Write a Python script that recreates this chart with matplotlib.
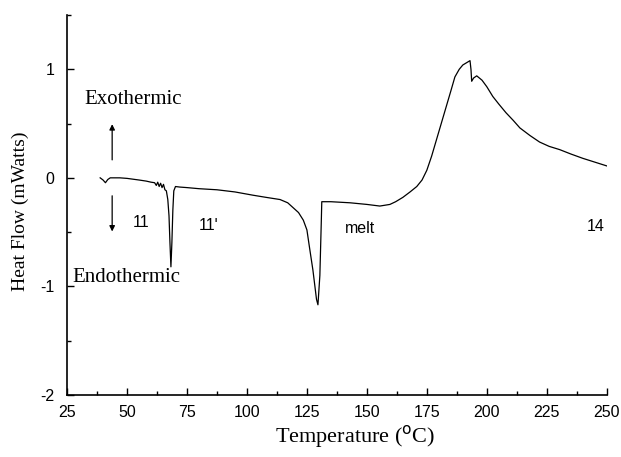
import numpy as np
import matplotlib
matplotlib.use('Agg')
import matplotlib.pyplot as plt
from matplotlib.ticker import MultipleLocator

plt.rcParams['axes.unicode_minus'] = False

# DSC curve, values
temp = [38.8, 40.0, 41.0, 42.0, 43.0, 47.0, 50.0, 55.0, 58.0, 60.0, 61.5, 62.2, 62.8,
        63.4, 64.0, 64.6, 65.2, 65.8, 66.4, 67.0, 67.5, 67.9, 68.3, 68.7, 69.1, 69.5,
        70.2, 72.0, 75.0, 80.0, 87.5, 95.0, 102.5, 108.0, 113.8, 117.0, 119.0, 121.5,
        123.5, 125.0, 126.0, 127.5, 129.0, 129.6, 130.4, 131.0, 131.2, 135.0, 143.0,
        150.0, 155.4, 159.6, 162.0, 165.0, 168.0, 170.8, 173.0, 175.0, 177.0, 179.0,
        181.0, 183.0, 185.0, 186.7, 188.5, 190.0, 191.5, 193.0, 193.4, 193.7, 194.5,
        195.8, 198.0, 200.0, 202.5, 205.0, 208.0, 211.0, 213.8, 218.0, 222.0, 226.0,
        230.4, 235.0, 240.0, 245.0, 250.0]
heat = [0.00, -0.02, -0.045, -0.015, 0.00, 0.00, -0.005, -0.02, -0.03, -0.04, -0.045, -0.07, -0.04,
        -0.08, -0.05, -0.09, -0.06, -0.11, -0.12, -0.2, -0.35, -0.6, -0.82, -0.6, -0.3, -0.12,
        -0.08, -0.085, -0.09, -0.1, -0.11, -0.13, -0.16, -0.18, -0.2, -0.23, -0.27, -0.32,
        -0.39, -0.48, -0.63, -0.85, -1.12, -1.17, -0.9, -0.4, -0.22, -0.22, -0.23,
        -0.245, -0.26, -0.245, -0.22, -0.18, -0.13, -0.08, -0.02, 0.07, 0.2, 0.35,
        0.5, 0.65, 0.8, 0.93, 1.0, 1.04, 1.06, 1.08, 1.0, 0.89, 0.92,
        0.94, 0.9, 0.84, 0.75, 0.68, 0.6, 0.53, 0.46, 0.39, 0.33, 0.29,
        0.26, 0.22, 0.18, 0.145, 0.11]

x_ticks = [25, 50, 75, 100, 125, 150, 175, 200, 225, 250]
y_ticks = [-2, -1, 0, 1]

fig = plt.figure(figsize=(6.21, 4.57), dpi=100)
ax = fig.add_axes([0.108, 0.136, 0.869, 0.831])

ax.plot(temp, heat, color='black', linewidth=0.9)

ax.set_xlim(25, 250)
ax.set_ylim(-2, 1.5)
ax.set_xticks(x_ticks)
ax.set_yticks(y_ticks)
ax.xaxis.set_minor_locator(MultipleLocator(12.5))
ax.yaxis.set_minor_locator(MultipleLocator(0.5))
ax.tick_params(which='both', direction='in', labelsize=11.5)
ax.tick_params(which='major', length=5, width=1)
ax.tick_params(which='minor', length=3, width=1)
ax.tick_params(axis='y', pad=9)
ax.tick_params(axis='x', pad=7)
for lab in ax.get_xticklabels() + ax.get_yticklabels():
    lab.set_fontfamily('Liberation Sans')

ax.spines['top'].set_visible(False)
ax.spines['right'].set_visible(False)
ax.spines['left'].set_linewidth(1.2)
ax.spines['bottom'].set_linewidth(1.2)

# axis titles
fig.text(355 / 621, 1 - 437 / 457, 'Temperature ($^{\\rm o}$C)', ha='center', va='center',
         fontsize=16, family='Liberation Serif')
fig.text(20 / 621, 1 - 211 / 457, 'Heat Flow (mWatts)', ha='center', va='center',
         rotation=90, fontsize=14, family='Liberation Serif')

# arrows and annotations
ax.annotate('', xy=(43.8, 0.52), xytext=(43.8, 0.14),
            arrowprops=dict(arrowstyle='-|>', color='black', lw=0.9, mutation_scale=8))
ax.annotate('', xy=(43.8, -0.52), xytext=(43.8, -0.14),
            arrowprops=dict(arrowstyle='-|>', color='black', lw=0.9, mutation_scale=8))
ax.text(52.5, 0.72, 'Exothermic', ha='center', va='center', fontsize=15, family='Liberation Serif')
ax.text(49.8, -0.92, 'Endothermic', ha='center', va='center', fontsize=15, family='Liberation Serif')
ax.text(56, -0.41, '11', ha='center', va='center', fontsize=11.5, family='Liberation Sans')
ax.text(84, -0.44, "11'", ha='center', va='center', fontsize=11.5, family='Liberation Sans')
ax.text(147, -0.47, 'melt', ha='center', va='center', fontsize=11.5, family='Liberation Sans')
ax.text(245.5, -0.45, '14', ha='center', va='center', fontsize=11.5, family='Liberation Sans')

fig.savefig('out.png', dpi=100)
